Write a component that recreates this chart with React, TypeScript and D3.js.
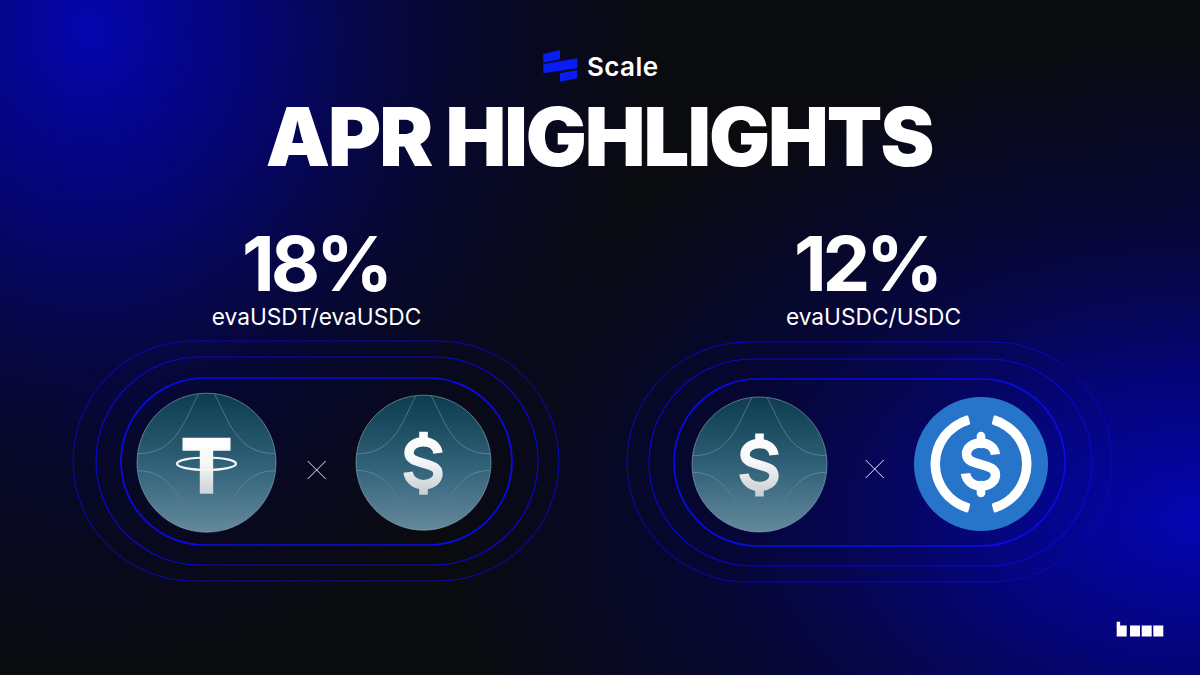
import { useEffect, useRef } from 'react';
import * as d3 from 'd3';

const title = 'APR HIGHLIGHTS';
const brand = 'Scale';
const aprValues = [18, 12];
const pairLabels = ['evaUSDT/evaUSDC', 'evaUSDC/USDC'];
const leftTokens = ['tether', 'eva'];
const rightTokens = ['eva', 'usdc'];

const S_PATH =
  'M14.5,-9.5 C13.5,-17 7,-21 0,-21 C-8,-21 -14.5,-16.5 -14.5,-10 C-14.5,-3 -7,-1.5 0,0.5 C7,2.5 14.5,4 14.5,11 C14.5,17.5 8,22 0,22 C-8,22 -14.5,17 -15.5,9.5';

type G = d3.Selection<SVGGElement, unknown, null, undefined>;

function drawDollar(g: G, fill: string, cap: 'butt' | 'round') {
  g.append('path')
    .attr('d', S_PATH)
    .attr('fill', 'none')
    .attr('stroke', fill)
    .attr('stroke-width', 9.4);
  g.append('path')
    .attr('d', cap === 'round' ? 'M0,-28 V-20 M0,21 V29' : 'M0,-31 V-20 M0,21 V32')
    .attr('fill', 'none')
    .attr('stroke', fill)
    .attr('stroke-width', 8.6)
    .attr('stroke-linecap', cap);
}

function drawEvaBase(g: G, r: number) {
  g.append('circle')
    .attr('r', r)
    .attr('fill', 'url(#coinFill)')
    .attr('stroke', '#8fabb8')
    .attr('stroke-opacity', 0.6)
    .attr('stroke-width', 1);
  const k = r / 69;
  const upper = [
    `M${-8 * k},${-68 * k} C${-22 * k},${-42 * k} ${-30 * k},${-9 * k} ${-68 * k},${-9 * k}`,
    `M${8 * k},${-68 * k} C${22 * k},${-42 * k} ${30 * k},${-9 * k} ${68 * k},${-9 * k}`,
  ];
  const lower = [
    `M${-68 * k},${8 * k} C${-42 * k},${8 * k} ${-32 * k},${26 * k} ${-18 * k},${48 * k}`,
    `M${68 * k},${8 * k} C${42 * k},${8 * k} ${32 * k},${26 * k} ${18 * k},${48 * k}`,
  ];
  g.selectAll('path.up')
    .data(upper)
    .enter()
    .append('path')
    .attr('class', 'up')
    .attr('d', d => d)
    .attr('fill', 'none')
    .attr('stroke', '#a9c3cf')
    .attr('stroke-opacity', 0.36)
    .attr('stroke-width', 1);
  g.selectAll('path.low')
    .data(lower)
    .enter()
    .append('path')
    .attr('class', 'low')
    .attr('d', d => d)
    .attr('fill', 'none')
    .attr('stroke', 'url(#lineFade)')
    .attr('stroke-width', 1);
}

function drawToken(g: G, kind: string, r: number) {
  if (kind === 'usdc') {
    g.append('circle').attr('r', r).attr('fill', '#2775ca');
    const arc = d3.arc().innerRadius(41).outerRadius(50.5).cornerRadius(1.5);
    const gap = 0.26;
    const spans = [
      [gap, Math.PI - gap],
      [Math.PI + gap, 2 * Math.PI - gap],
    ];
    g.selectAll('path.bracket')
      .data(spans)
      .enter()
      .append('path')
      .attr('class', 'bracket')
      .attr('d', d => arc({ startAngle: d[0], endAngle: d[1] } as any))
      .attr('fill', '#fff');
    drawDollar(g, '#fff', 'round');
    return;
  }
  drawEvaBase(g, r);
  if (kind === 'tether') {
    g.append('path')
      .attr('d', 'M-24,-25 H24 V-12 H6.7 V31 H-6.7 V-12 H-24 Z')
      .attr('fill', 'url(#glyphFill)');
    g.append('ellipse')
      .attr('rx', 29.5)
      .attr('ry', 6.2)
      .attr('cy', 1)
      .attr('fill', 'none')
      .attr('stroke', '#f4f6f7')
      .attr('stroke-width', 2.2);
  } else {
    // stroke gradients need user space so the stubs and the S share one ramp
    drawDollar(g, 'url(#glyphStroke)', 'butt');
  }
}

export default function App() {
  const ref = useRef<SVGSVGElement | null>(null);

  useEffect(() => {
    const svg = d3.select(ref.current as SVGSVGElement);
    svg.selectAll('*').remove();
    const defs = svg.append('defs');

    const radial = (id: string, cx: number, cy: number, rx: number, ry: number, stops: [number, string, number][]) => {
      const grad = defs
        .append('radialGradient')
        .attr('id', id)
        .attr('gradientUnits', 'userSpaceOnUse')
        .attr('cx', 0)
        .attr('cy', 0)
        .attr('r', 1)
        .attr('gradientTransform', `translate(${cx},${cy}) scale(${rx},${ry})`);
      stops.forEach(s => grad.append('stop').attr('offset', s[0]).attr('stop-color', s[1]).attr('stop-opacity', s[2]));
    };
    radial('glowTL', 90, 30, 570, 640, [
      [0, '#0505b0', 1],
      [0.3, '#04048a', 0.8],
      [0.65, '#030350', 0.45],
      [1, '#030350', 0],
    ]);
    radial('glowBR', 1200, 520, 760, 480, [
      [0, '#0505b4', 1],
      [0.3, '#04048c', 0.85],
      [0.65, '#030350', 0.55],
      [1, '#030350', 0],
    ]);

    const linear = (id: string, stops: [number, string, number][], user?: [number, number]) => {
      const grad = defs.append('linearGradient').attr('id', id).attr('x1', 0).attr('x2', 0);
      if (user) {
        grad.attr('gradientUnits', 'userSpaceOnUse').attr('y1', user[0]).attr('y2', user[1]);
      } else {
        grad.attr('y1', 0).attr('y2', 1);
      }
      stops.forEach(s => grad.append('stop').attr('offset', s[0]).attr('stop-color', s[1]).attr('stop-opacity', s[2]));
    };
    linear('coinFill', [
      [0, '#0d3c4e', 1],
      [0.5, '#2e6077', 1],
      [1, '#64899c', 1],
    ]);
    linear('lineFade', [
      [0, '#a9c3cf', 0.34],
      [1, '#a9c3cf', 0],
    ]);
    linear('glyphFill', [
      [0, '#ffffff', 1],
      [0.45, '#f6f7f8', 1],
      [1, '#ccd2d6', 1],
    ]);
    linear(
      'glyphStroke',
      [
        [0, '#ffffff', 1],
        [0.45, '#f6f7f8', 1],
        [1, '#c6cdd2', 1],
      ],
      [-31, 32],
    );

    svg.append('rect').attr('width', 1200).attr('height', 675).attr('fill', '#0a0b0f');
    svg.append('rect').attr('width', 1200).attr('height', 675).attr('fill', 'url(#glowTL)');
    svg.append('rect').attr('width', 1200).attr('height', 675).attr('fill', 'url(#glowBR)');

    // logo
    const logoBars = [
      [[543.3, 54], [560, 50], [560, 59.3], [543.3, 62.7]],
      [[543.3, 64], [577.3, 58.3], [577.3, 68.3], [543.3, 73.3]],
      [[560, 73.3], [577.3, 70], [577.3, 78.3], [560, 81.7]],
    ];
    const line = d3.line();
    svg.selectAll('path.logo')
      .data(logoBars)
      .enter()
      .append('path')
      .attr('class', 'logo')
      .attr('d', d => line(d as [number, number][]) + 'Z')
      .attr('fill', '#0a1cf5');
    svg.append('text')
      .text(brand)
      .attr('x', 587)
      .attr('y', 76)
      .attr('font-family', 'Inter')
      .attr('font-weight', 600)
      .attr('font-size', 26)
      .attr('letter-spacing', 0.4)
      .attr('fill', '#fff');

    svg.append('text')
      .text(title)
      .attr('x', 599)
      .attr('y', 166)
      .attr('text-anchor', 'middle')
      .attr('font-family', 'Inter')
      .attr('font-weight', 900)
      .attr('font-size', 81)
      .attr('letter-spacing', -2)
      .attr('fill', '#fff');

    // footer mark
    const blocks = [1116.7, 1130, 1141.7, 1153.3];
    svg.selectAll('rect.mark')
      .data(blocks)
      .enter()
      .append('rect')
      .attr('class', 'mark')
      .attr('x', d => d)
      .attr('y', 625.5)
      .attr('width', 10)
      .attr('height', 11)
      .attr('fill', '#fff');
    svg.append('rect').attr('x', 1116.7).attr('y', 621.7).attr('width', 3.4).attr('height', 5).attr('fill', '#fff');

    const panels = [
      { pct: 315.5, label: 316.5, pills: [[121, 512, 378, 545], [96, 538, 357, 565], [73, 559, 341, 581]], coins: [[206.5, 462.7, 69.5], [423.5, 462.7, 67.5]], cross: [316.7, 470], tokens: leftTokens },
      { pct: 866.5, label: 873.5, pills: [[674, 1065, 379, 546], [649, 1092, 359, 566], [627, 1112, 342, 582]], coins: [[759.5, 464.5, 67.5], [981, 464, 67]], cross: [874.7, 469], tokens: rightTokens },
    ];
    const pillStyles = [
      ['#0b0be6', 1.7],
      ['#0909cc', 1.2],
      ['#0808bc', 1],
    ];

    panels.forEach((p, i) => {
      svg.append('text')
        .text(`${aprValues[i]}%`)
        .attr('x', p.pct)
        .attr('y', 291)
        .attr('text-anchor', 'middle')
        .attr('font-family', 'Inter')
        .attr('font-weight', 700)
        .attr('font-size', 76)
        .attr('letter-spacing', -4.2)
        .attr('fill', '#fff');
      svg.append('text')
        .text(pairLabels[i])
        .attr('x', p.label)
        .attr('y', 325)
        .attr('text-anchor', 'middle')
        .attr('font-family', 'Inter')
        .attr('font-weight', 400)
        .attr('font-size', 22.7)
        .attr('fill', '#fff');

      p.pills.forEach((b, j) => {
        svg.append('rect')
          .attr('x', b[0])
          .attr('y', b[2])
          .attr('width', b[1] - b[0])
          .attr('height', b[3] - b[2])
          .attr('rx', (b[3] - b[2]) / 2)
          .attr('fill', 'none')
          .attr('stroke', pillStyles[j][0] as string)
          .attr('stroke-width', pillStyles[j][1] as number);
      });

      p.tokens.forEach((t, j) => {
        const c = p.coins[j];
        const g = svg.append('g').attr('transform', `translate(${c[0]},${c[1]})`) as unknown as G;
        drawToken(g, t, c[2]);
      });

      const path = d3.path();
      path.moveTo(p.cross[0] - 9, p.cross[1] - 9);
      path.lineTo(p.cross[0] + 9, p.cross[1] + 9);
      path.moveTo(p.cross[0] + 9, p.cross[1] - 9);
      path.lineTo(p.cross[0] - 9, p.cross[1] + 9);
      svg.append('path').attr('d', path.toString()).attr('stroke', '#e8e8f2').attr('stroke-width', 1).attr('fill', 'none');
    });
  }, []);

  return <svg ref={ref} width={1200} height={675} style={{ position: 'absolute', left: 0, top: 0 }} />;
}
